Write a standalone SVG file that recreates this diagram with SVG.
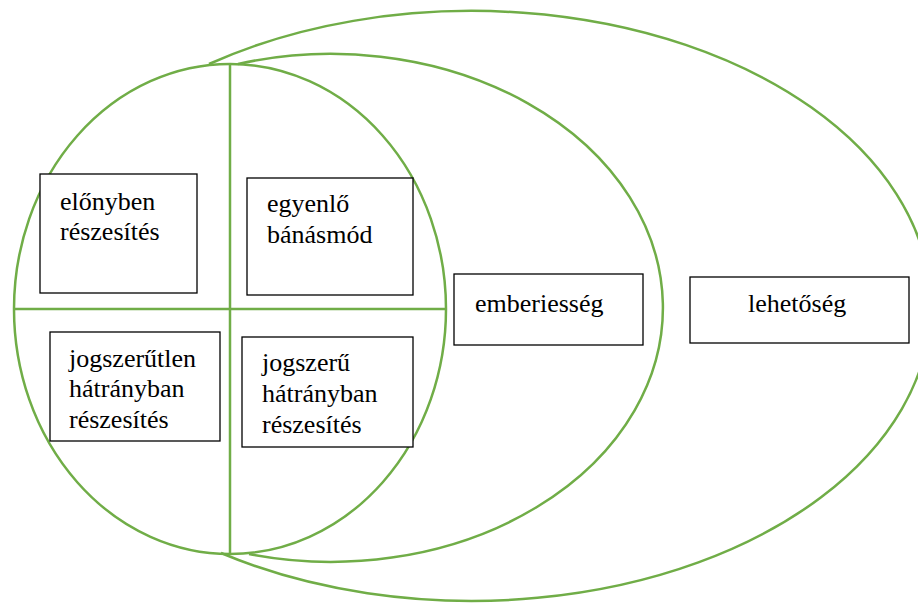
<svg xmlns="http://www.w3.org/2000/svg" width="918" height="603" viewBox="0 0 918 603">
<style>
.ring{fill:none;stroke:#70AD47;stroke-width:2.5}
.box{fill:#fff;stroke:#000;stroke-width:1.3}
</style>
<rect width="918" height="603" fill="#fff"/>
<g id="connectors">
<path class="ring" d="M 209 64 A 459 295 0 1 1 221 553"/>
<path class="ring" d="M 238 64 A 332 254 0 1 1 249 554"/>
<ellipse class="ring" cx="230" cy="309" rx="216" ry="245"/>
<line class="ring" x1="14" y1="309" x2="446" y2="309"/>
<line class="ring" x1="230" y1="64" x2="230" y2="554"/>
</g>
<g font-family="Liberation Serif, DejaVu Serif, serif" font-size="26" fill="#000">
<g id="elonyben">
<rect class="box" x="40" y="174" width="157" height="119"/>
<text x="60" y="210">előnyben</text>
<text x="60" y="240">részesítés</text>
</g>
<g id="egyenlo">
<rect class="box" x="247" y="178" width="166" height="117"/>
<text x="267" y="212">egyenlő</text>
<text x="267" y="243">bánásmód</text>
</g>
<g id="jogszerutlen">
<rect class="box" x="50" y="332" width="170" height="109"/>
<text x="69" y="367">jogszerűtlen</text>
<text x="69" y="397">hátrányban</text>
<text x="69" y="428">részesítés</text>
</g>
<g id="jogszeru">
<rect class="box" x="242" y="337" width="171" height="110"/>
<text x="262" y="371">jogszerű</text>
<text x="262" y="402">hátrányban</text>
<text x="262" y="433">részesítés</text>
</g>
<g id="emberiesseg">
<rect class="box" x="454" y="274" width="189" height="71"/>
<text x="475" y="312">emberiesség</text>
</g>
<g id="lehetoseg">
<rect class="box" x="690" y="277" width="219" height="66"/>
<text x="748" y="312">lehetőség</text>
</g>
</g>
</svg>
